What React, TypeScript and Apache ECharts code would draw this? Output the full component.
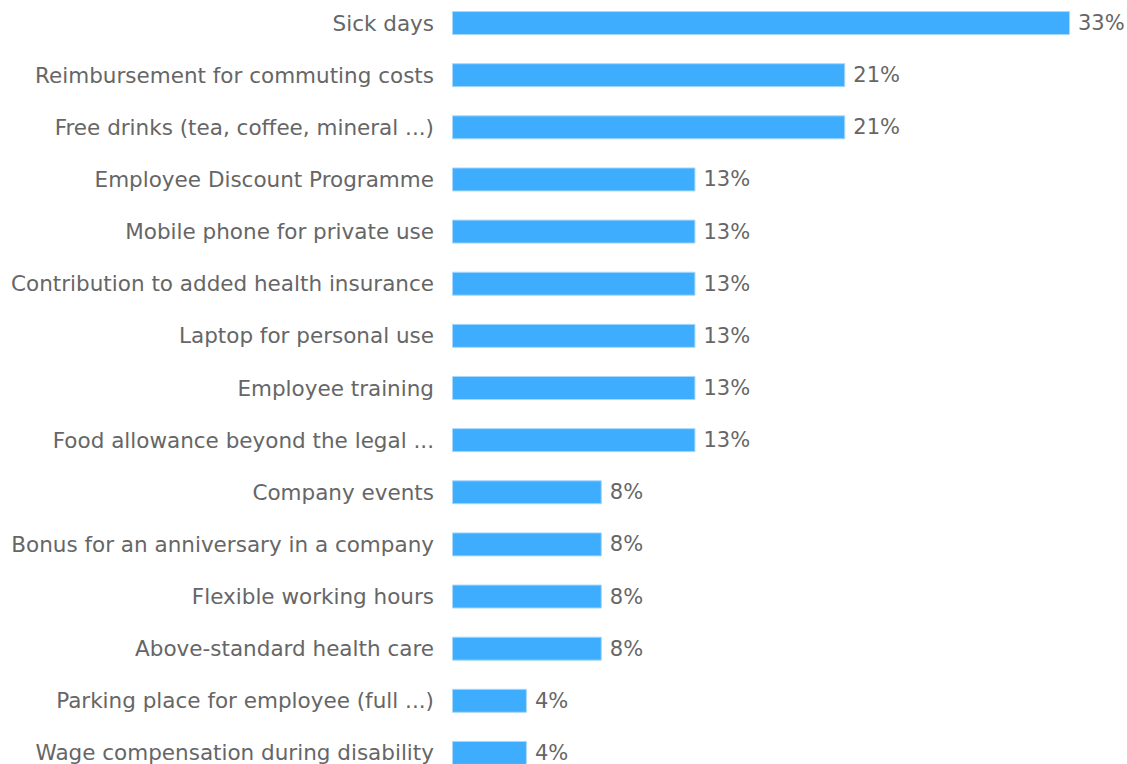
import React, { useEffect, useRef } from "react";
import * as echarts from "echarts";

const categories: string[] = [
  "Sick days",
  "Reimbursement for commuting costs",
  "Free drinks (tea, coffee, mineral ...)",
  "Employee Discount Programme",
  "Mobile phone for private use",
  "Contribution to added health insurance",
  "Laptop for personal use",
  "Employee training",
  "Food allowance beyond the legal ...",
  "Company events",
  "Bonus for an anniversary in a company",
  "Flexible working hours",
  "Above-standard health care",
  "Parking place for employee (full ...)",
  "Wage compensation during disability",
];

const values: number[] = [33, 21, 21, 13, 13, 13, 13, 13, 13, 8, 8, 8, 8, 4, 4];

const FONT = "'DejaVu Sans', Verdana, sans-serif";

export default function App() {
  const ref = useRef<HTMLDivElement>(null);
  useEffect(() => {
    if (!ref.current) return;
    const chart = echarts.init(ref.current, undefined, { renderer: "svg" });
    chart.setOption({
      animation: false,
      grid: {
        left: 452,
        right: 57,
        top: -3,
        bottom: -15,
        containLabel: false,
        outerBoundsMode: "none",
      },
      xAxis: {
        type: "value",
        min: 0,
        max: 33,
        show: false,
      },
      yAxis: {
        type: "category",
        data: categories,
        inverse: true,
        axisLine: { show: false },
        axisTick: { show: false },
        splitLine: { show: false },
        axisLabel: {
          color: "#666666",
          fontSize: 21.5,
          fontFamily: FONT,
          margin: 18,
          interval: 0,
        },
      },
      series: [
        {
          type: "bar",
          data: values,
          barWidth: 24,
          itemStyle: {
            color: "#3fadfd",
            borderColor: "#a9d8fb",
            borderWidth: 1,
          },
          label: {
            show: true,
            position: "right",
            distance: 8,
            formatter: "{c}%",
            color: "#666666",
            fontSize: 21,
            fontFamily: FONT,
          },
        },
      ],
    });
    return () => chart.dispose();
  }, []);
  return (
    <div
      ref={ref}
      style={{ position: "absolute", left: 0, top: 0, width: 1127, height: 764 }}
    />
  );
}
